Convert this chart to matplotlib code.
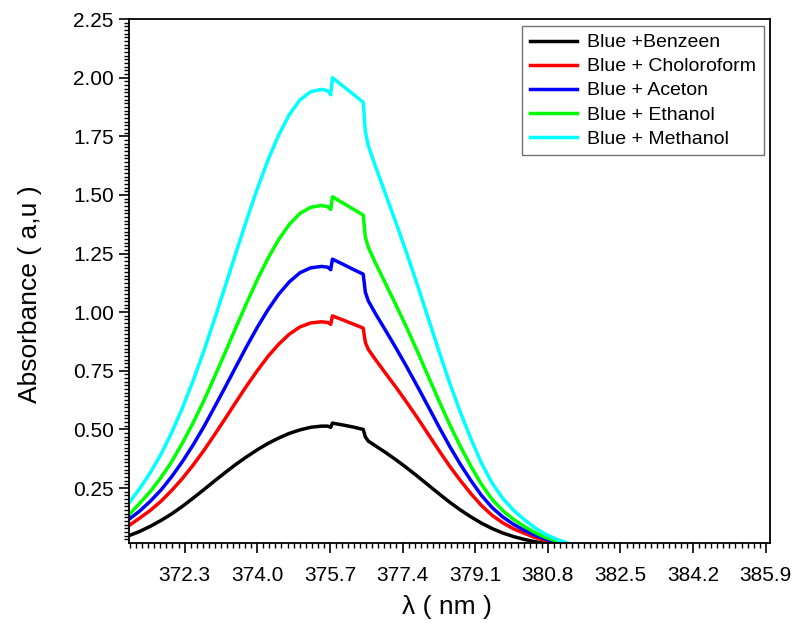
import matplotlib
matplotlib.use("Agg")
import matplotlib.pyplot as plt
from matplotlib.ticker import AutoMinorLocator

plt.rcParams['font.family'] = ['Liberation Sans', 'DejaVu Sans']

# wavelength (nm), shared by all spectra
wavelength = [371.0, 371.25, 371.5, 371.75, 372.0, 372.25, 372.5, 372.75,
              373.0, 373.25, 373.5, 373.75, 374.0, 374.25, 374.5, 374.75,
              375.0, 375.25, 375.5, 375.65, 375.72, 375.76, 376.0, 376.25,
              376.48, 376.53, 376.6, 376.75, 377.0, 377.25, 377.5, 377.75,
              378.0, 378.25, 378.5, 378.75, 379.0, 379.25, 379.5, 379.75,
              380.0, 380.25, 380.5, 380.75, 381.0, 381.25, 381.5]

benzeen = [0.047, 0.065, 0.087, 0.112, 0.140, 0.172, 0.207, 0.243,
           0.280, 0.316, 0.351, 0.383, 0.413, 0.440, 0.463, 0.483,
           0.498, 0.509, 0.514, 0.514, 0.509, 0.527, 0.519, 0.510,
           0.500, 0.468, 0.450, 0.432, 0.402, 0.370, 0.336, 0.300,
           0.263, 0.226, 0.190, 0.157, 0.127, 0.100, 0.077, 0.058,
           0.043, 0.031, 0.021, 0.013, 0.007, 0.003, 0.0]

choloroform = [0.090, 0.122, 0.155, 0.194, 0.240, 0.291, 0.348, 0.410,
               0.477, 0.546, 0.616, 0.685, 0.750, 0.811, 0.863, 0.906,
               0.937, 0.954, 0.959, 0.956, 0.948, 0.984, 0.967, 0.949,
               0.932, 0.871, 0.841, 0.802, 0.740, 0.679, 0.615, 0.549,
               0.480, 0.411, 0.344, 0.283, 0.226, 0.175, 0.133, 0.101,
               0.076, 0.057, 0.039, 0.026, 0.016, 0.008, 0.002]

aceton = [0.117, 0.152, 0.194, 0.242, 0.299, 0.363, 0.434, 0.511,
          0.595, 0.680, 0.767, 0.853, 0.935, 1.010, 1.076, 1.129,
          1.168, 1.189, 1.195, 1.192, 1.181, 1.226, 1.205, 1.182,
          1.162, 1.085, 1.048, 0.999, 0.923, 0.846, 0.766, 0.683,
          0.598, 0.512, 0.429, 0.352, 0.282, 0.218, 0.166, 0.126,
          0.095, 0.070, 0.049, 0.032, 0.020, 0.010, 0.002]

ethanol = [0.136, 0.185, 0.236, 0.295, 0.363, 0.442, 0.528, 0.622,
           0.724, 0.828, 0.934, 1.038, 1.138, 1.229, 1.309, 1.374,
           1.421, 1.447, 1.455, 1.450, 1.438, 1.492, 1.466, 1.439,
           1.414, 1.320, 1.276, 1.216, 1.123, 1.029, 0.933, 0.832,
           0.727, 0.623, 0.522, 0.429, 0.343, 0.265, 0.201, 0.153,
           0.116, 0.086, 0.060, 0.039, 0.024, 0.012, 0.003]

methanol = [0.187, 0.248, 0.316, 0.395, 0.487, 0.592, 0.708, 0.834,
            0.970, 1.110, 1.252, 1.392, 1.525, 1.648, 1.755, 1.842,
            1.905, 1.940, 1.950, 1.944, 1.927, 2.000, 1.965, 1.929,
            1.895, 1.770, 1.710, 1.630, 1.505, 1.380, 1.250, 1.115,
            0.975, 0.835, 0.700, 0.575, 0.460, 0.355, 0.270, 0.205,
            0.155, 0.115, 0.080, 0.052, 0.032, 0.016, 0.004]

labels = ['Blue +Benzeen', 'Blue + Choloroform', 'Blue + Aceton',
          'Blue + Ethanol', 'Blue + Methanol']
colors = ['black', '#ff0000', '#0000ff', '#00ff00', '#00ffff']

x_ticks = [372.3, 374.0, 375.7, 377.4, 379.1, 380.8, 382.5, 384.2, 385.9]
y_ticks = [0.25, 0.50, 0.75, 1.00, 1.25, 1.50, 1.75, 2.00, 2.25]

fig = plt.figure(figsize=(7.95, 6.26), dpi=100)
ax = fig.add_axes([0.1623, 0.1331, 0.8063, 0.8365])

series = [benzeen, choloroform, aceton, ethanol, methanol]
for values, lab, col in zip(series, labels, colors):
    ax.plot(wavelength, values, color=col, lw=2.5, label=lab)

ax.set_xlim(371.0, 386.0)
ax.set_ylim(0.017, 2.25)
ax.set_xticks(x_ticks)
ax.set_xticklabels(['%.1f' % t for t in x_ticks])
ax.set_yticks(y_ticks)
ax.set_yticklabels(['%.2f' % t for t in y_ticks])
ax.xaxis.set_minor_locator(AutoMinorLocator(12))
ax.yaxis.set_minor_locator(AutoMinorLocator(16))

ax.tick_params(which='major', direction='out', length=7, width=1.2, labelsize=15)
ax.tick_params(which='minor', direction='out', length=3.5, width=1.0)
ax.tick_params(axis='x', which='major', pad=10)
ax.tick_params(axis='y', which='major', pad=4)
for s in ax.spines.values():
    s.set_linewidth(1.3)

ax.set_xlabel('λ ( nm )', fontsize=19, va='center')
ax.xaxis.set_label_coords(0.496, -0.123)
ax.set_ylabel('Absorbance ( a,u )', fontsize=19, va='center')
ax.yaxis.set_label_coords(-0.154, 0.475)

leg = ax.legend(loc='upper right', bbox_to_anchor=(0.9906, 0.9866),
                borderaxespad=0, fontsize=14, fancybox=False,
                handlelength=2.4, handletextpad=0.55, labelspacing=0.33,
                borderpad=0.4)
leg.get_frame().set_edgecolor('0.3')
leg.get_frame().set_linewidth(1.0)

fig.savefig('out.png', dpi=100)
